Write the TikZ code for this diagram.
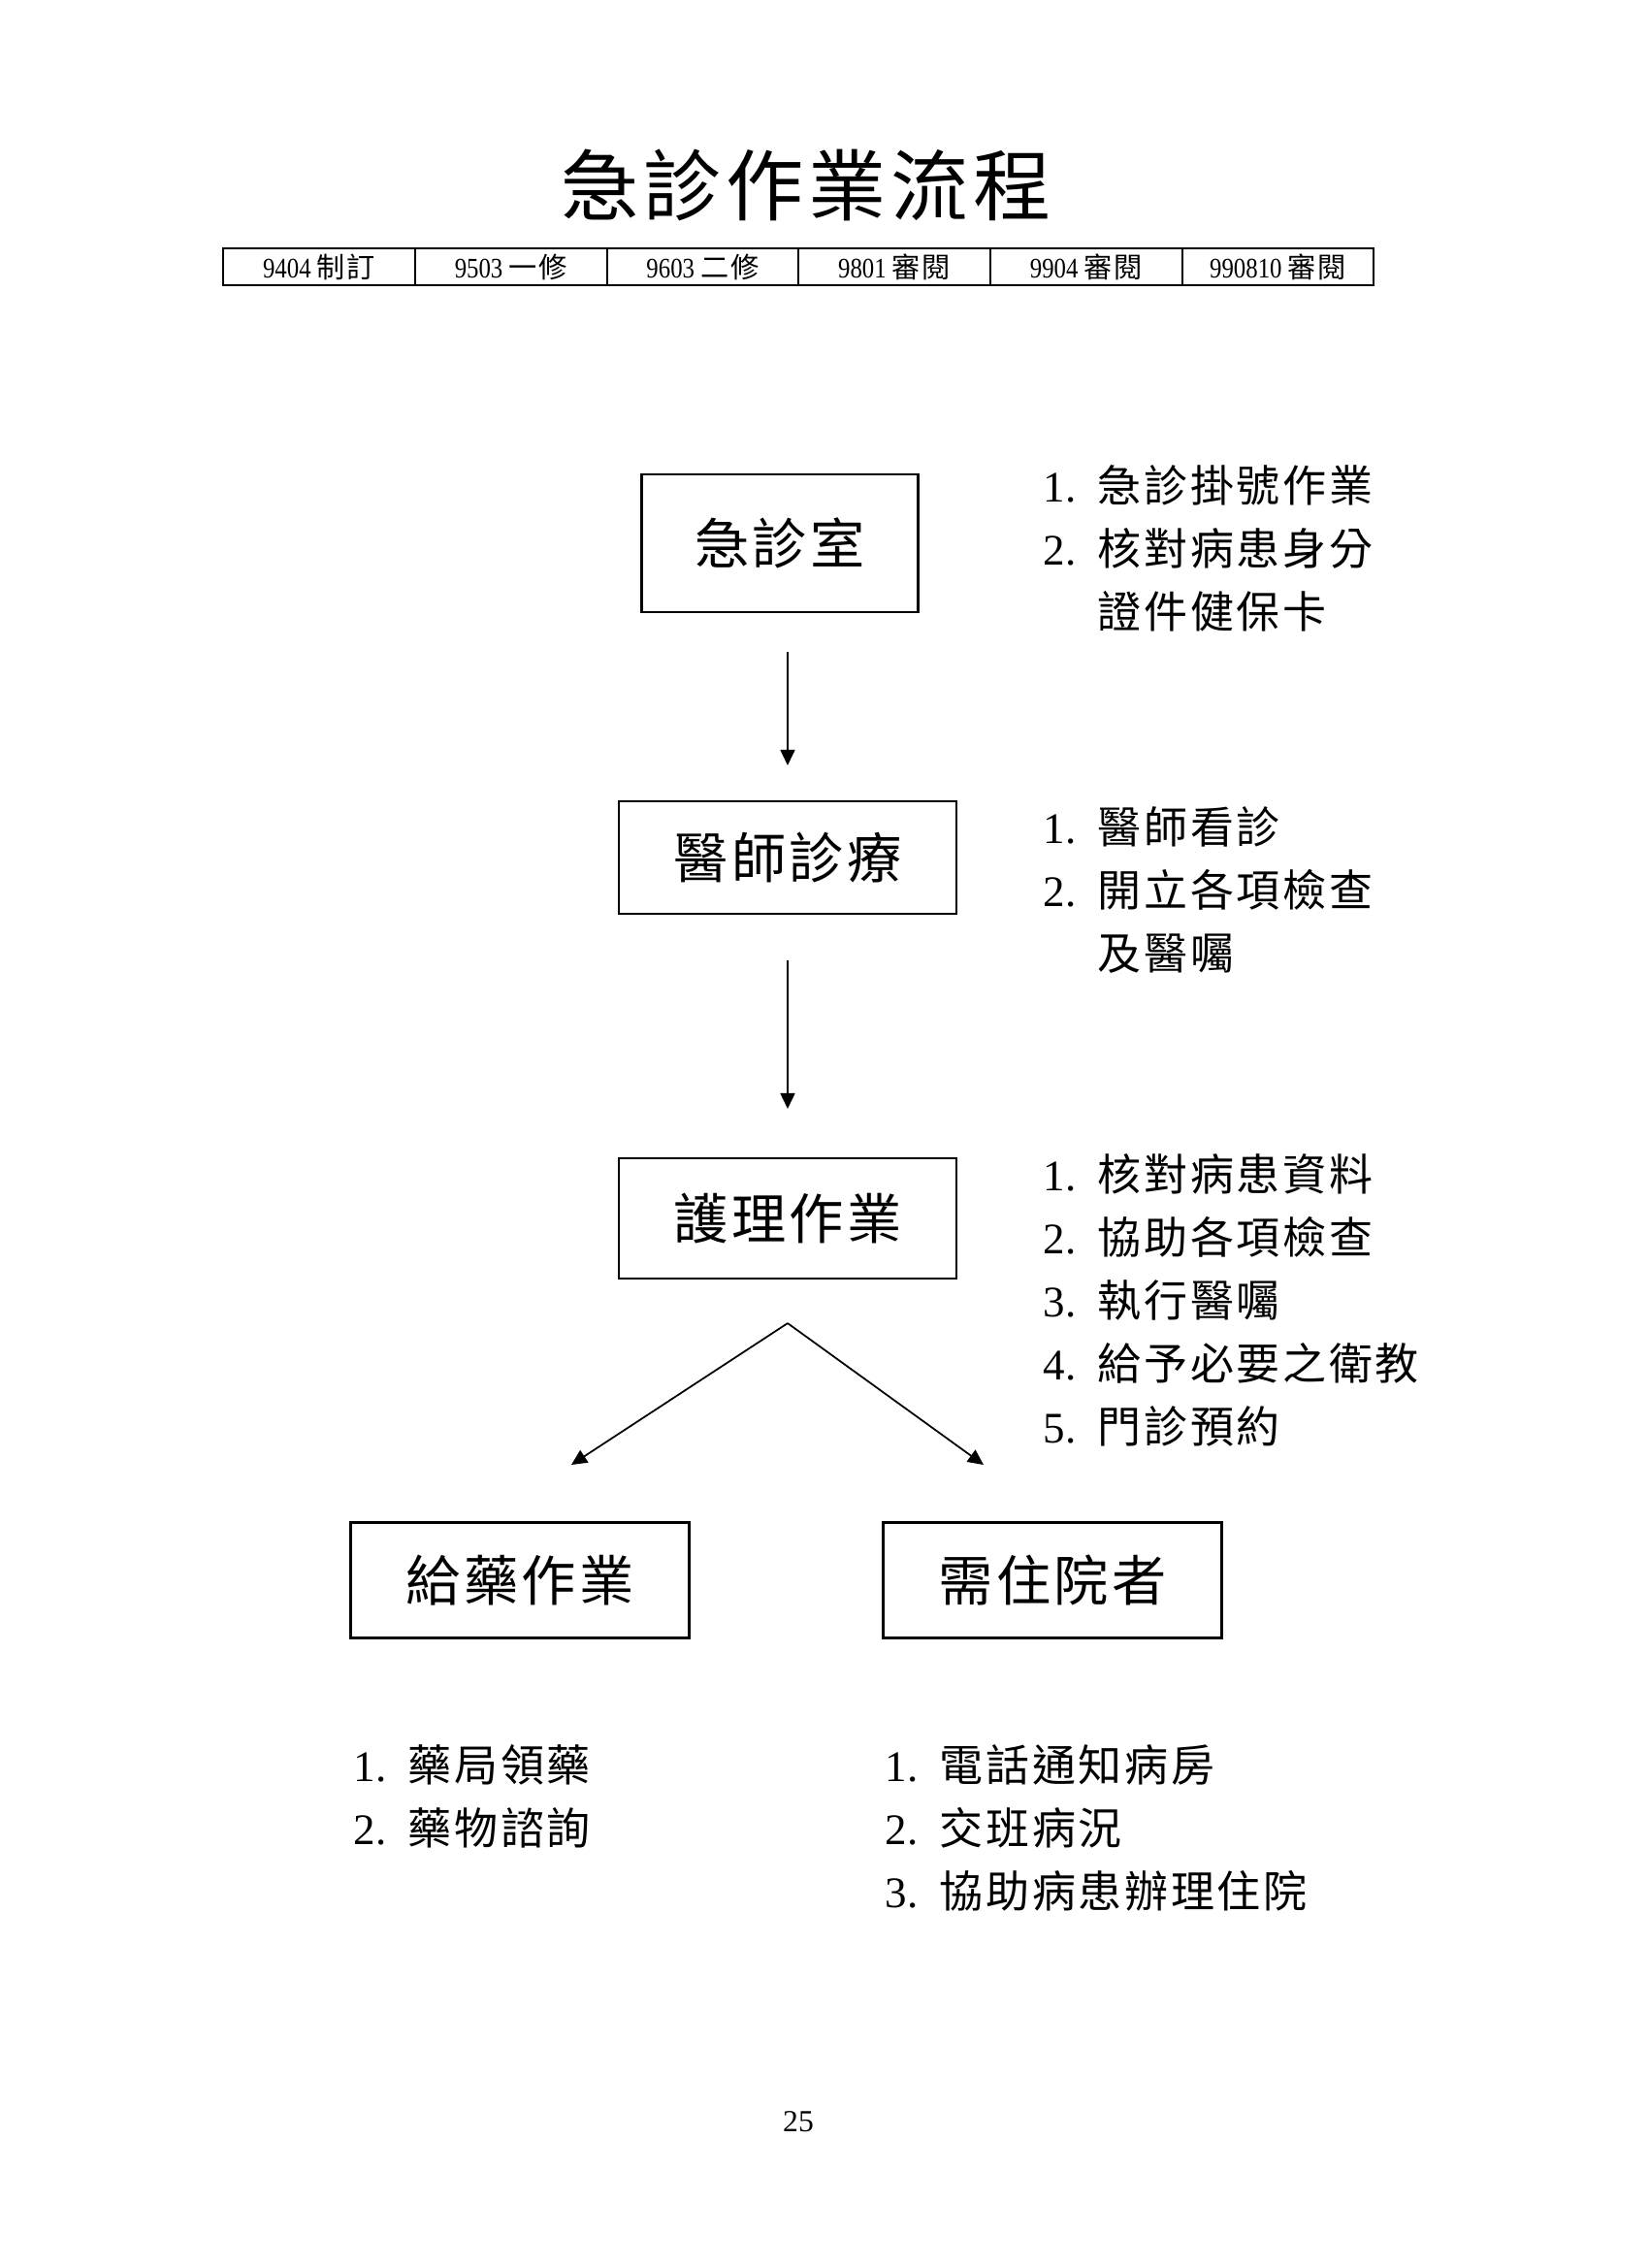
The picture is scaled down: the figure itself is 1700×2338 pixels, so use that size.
\documentclass[tikz,border=0pt]{standalone}
\usepackage{fontspec}
\setmainfont{Liberation Serif}
\newfontfamily\cjk[LetterSpace=6]{Noto Sans CJK TC}
\newfontfamily\narrowserif[FakeStretch=0.85]{Liberation Serif}
\newcommand{\cn}[1]{{\cjk #1}}
\newcommand{\lnum}[1]{\makebox[5.6mm][l]{#1}}
\usetikzlibrary{arrows.meta}

\begin{document}
\begin{tikzpicture}[x=0.1mm,y=-0.1mm,
  procbox/.style={draw,line width=0.6pt,inner sep=0pt,font=\fontsize{16}{19}\selectfont},
  note/.style={anchor=north west,align=left,inner sep=0pt,font=\fontsize{12.8}{18.5}\selectfont},
  revcell/.style={draw,line width=0.6pt,minimum width=19.77mm,minimum height=3.8mm,inner sep=0pt,font=\fontsize{8.3}{9}\selectfont\narrowserif},
  arr/.style={-{Triangle[length=1.6mm,width=1.5mm]},line width=0.5pt}]
\useasboundingbox (0,0) rectangle (1700,2338);

% title and revision row
\node[font=\fontsize{22.8}{26}\selectfont] (head) at (831,191) {\cn{急診作業流程}};
\foreach \v [count=\i from 0] in {9404 \cn{制訂},9503 \cn{一修},9603 \cn{二修},9801 \cn{審閱},9904 \cn{審閱},990810 \cn{審閱}}
  \node[revcell] (rev\i) at (329+197.7*\i,275) {\v};

% flow boxes
\node[procbox,minimum width=28.5mm,minimum height=14.2mm] (er) at (804,560) {\cn{急診室}};
\node[procbox,minimum width=34.8mm,minimum height=11.6mm] (doc) at (812,884) {\cn{醫師診療}};
\node[procbox,minimum width=34.8mm,minimum height=12.4mm] (nurse) at (812,1256) {\cn{護理作業}};
\node[procbox,minimum width=34.9mm,minimum height=11.9mm] (drug) at (536,1629) {\cn{給藥作業}};
\node[procbox,minimum width=34.9mm,minimum height=11.9mm] (admit) at (1085,1629) {\cn{需住院者}};

\draw[arr,shorten <=4mm,shorten >=3.6mm] (er.south -| doc.south) -- (doc.north);
\draw[arr,shorten <=4.7mm,shorten >=5mm] (doc.south) -- (nurse.north);
\coordinate (split) at ([yshift=-4.5mm]nurse.south);
\coordinate (toDrug) at (589,1510);
\coordinate (toAdmit) at (1014,1510);
\draw[arr] (split) -- (toDrug);
\draw[arr] (split) -- (toAdmit);

% notes beside the boxes
\node[note] (erNote) at (1075,479) {\lnum{1.}\cn{急診掛號作業}\\\lnum{2.}\cn{核對病患身分}\\\lnum{}\cn{證件健保卡}};
\node[note] (docNote) at (1075,831) {\lnum{1.}\cn{醫師看診}\\\lnum{2.}\cn{開立各項檢查}\\\lnum{}\cn{及醫囑}};
\node[note] (nurseNote) at (1075,1189) {\lnum{1.}\cn{核對病患資料}\\\lnum{2.}\cn{協助各項檢查}\\\lnum{3.}\cn{執行醫囑}\\\lnum{4.}\cn{給予必要之衛教}\\\lnum{5.}\cn{門診預約}};
\node[note] (drugNote) at (364,1798) {\lnum{1.}\cn{藥局領藥}\\\lnum{2.}\cn{藥物諮詢}};
\node[note] (admitNote) at (912,1798) {\lnum{1.}\cn{電話通知病房}\\\lnum{2.}\cn{交班病況}\\\lnum{3.}\cn{協助病患辦理住院}};

\node[font=\fontsize{9}{10}\selectfont] (page) at (823,2187) {25};
\end{tikzpicture}
\end{document}
